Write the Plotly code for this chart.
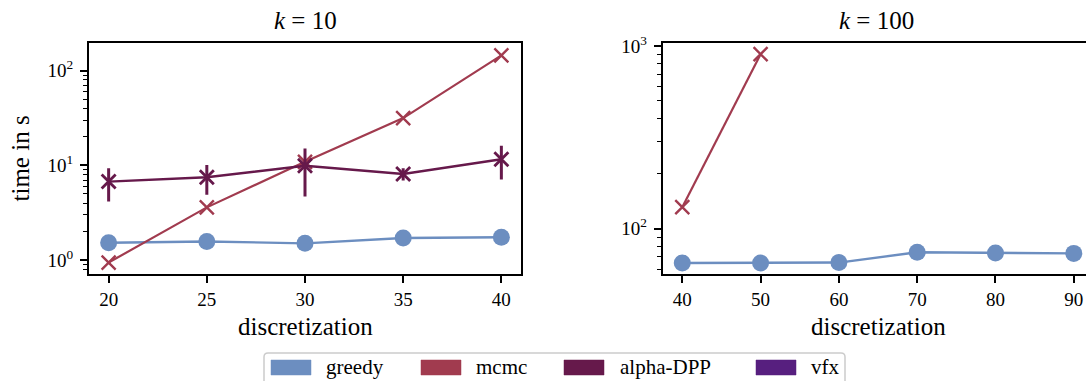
import plotly.graph_objects as go

W, H = 1086, 381

# ---- data ----
disc_k10 = [20, 25, 30, 35, 40]
greedy_k10 = [1.52, 1.57, 1.50, 1.71, 1.74]
mcmc_k10 = [0.94, 3.6, 10.9, 31.6, 145]
alpha_k10 = [6.74, 7.5, 9.9, 8.1, 11.6]
alpha_k10_err = [2.6, 2.6, 5.2, 1.2, 4.5]

disc_k100 = [40, 50, 60, 70, 80, 90]
greedy_k100 = [64.9, 64.8, 65.2, 74.2, 73.6, 73.2]
mcmc_k100_x = [40, 50]
mcmc_k100 = [131, 902]

series_names = ["greedy", "mcmc", "alpha-DPP", "vfx"]
colors = {"greedy": "#6c8ec0", "mcmc": "#a13b4f", "alpha-DPP": "#66194b", "vfx": "#571f7f"}

FONT = "Liberation Serif"

def px(x):
    return x / W

def py(y):
    return (H - y) / H

fig = go.Figure()

# left panel
fig.add_trace(go.Scatter(x=disc_k10, y=greedy_k10, mode="lines+markers", showlegend=False,
                         line=dict(color=colors["greedy"], width=2.4),
                         marker=dict(symbol="circle", size=17, color=colors["greedy"]),
                         xaxis="x", yaxis="y"))
fig.add_trace(go.Scatter(x=disc_k10, y=mcmc_k10, mode="lines+markers", showlegend=False,
                         line=dict(color=colors["mcmc"], width=2.2),
                         marker=dict(symbol="x-thin", size=14, line=dict(color=colors["mcmc"], width=2.4)),
                         xaxis="x", yaxis="y"))
fig.add_trace(go.Scatter(x=disc_k10, y=alpha_k10, mode="lines+markers", showlegend=False,
                         line=dict(color=colors["alpha-DPP"], width=2.4),
                         marker=dict(symbol="x-thin", size=14, line=dict(color=colors["alpha-DPP"], width=2.8)),
                         error_y=dict(type="data", array=alpha_k10_err, symmetric=True, thickness=3,
                                      width=0, color=colors["alpha-DPP"]),
                         xaxis="x", yaxis="y"))

# right panel
fig.add_trace(go.Scatter(x=disc_k100, y=greedy_k100, mode="lines+markers", showlegend=False,
                         line=dict(color=colors["greedy"], width=2.4),
                         marker=dict(symbol="circle", size=17, color=colors["greedy"]),
                         xaxis="x2", yaxis="y2"))
fig.add_trace(go.Scatter(x=mcmc_k100_x, y=mcmc_k100, mode="lines+markers", showlegend=False,
                         line=dict(color=colors["mcmc"], width=2.2),
                         marker=dict(symbol="x-thin", size=14, line=dict(color=colors["mcmc"], width=2.4)),
                         xaxis="x2", yaxis="y2"))

ydom = [py(274.3), py(42.7)]
common_x = dict(showline=True, linecolor="black", linewidth=2, ticks="outside", ticklen=7,
                tickwidth=1.6, tickcolor="black", showgrid=False, zeroline=False, automargin=False,
                tickfont=dict(family=FONT, size=19, color="black"))
common_y = dict(common_x, ticklabelstandoff=3)

fig.update_layout(
    width=W, height=H,
    margin=dict(l=0, r=0, t=0, b=0, autoexpand=False),
    paper_bgcolor="white", plot_bgcolor="white",
    showlegend=False,
    xaxis=dict(common_x, domain=[px(89), px(521)], range=[19, 41], tickvals=[20, 25, 30, 35, 40],
               mirror=True, anchor="y"),
    yaxis=dict(common_y, domain=ydom, type="log", range=[-0.151, 2.296], mirror=True, anchor="x",
               tickvals=[1, 10, 100], ticktext=["10<sup>0</sup>", "10<sup>1</sup>", "10<sup>2</sup>"],
               minor=dict(ticks="outside", ticklen=4, tickwidth=1.2, tickcolor="black",
                          tickvals=[0.8, 0.9, 2, 3, 4, 5, 6, 7, 8, 9, 20, 30, 40, 50, 60, 70, 80, 90])),
    xaxis2=dict(common_x, domain=[px(662.7), 1.0], range=[37.5, 91.56], tickvals=[40, 50, 60, 70, 80, 90],
                mirror=True, anchor="y2"),
    yaxis2=dict(common_y, domain=ydom, type="log", range=[1.750, 3.018], mirror=False, anchor="x2",
                tickvals=[100, 1000], ticktext=["10<sup>2</sup>", "10<sup>3</sup>"],
                minor=dict(ticks="outside", ticklen=4, tickwidth=1.2, tickcolor="black",
                           tickvals=[60, 70, 80, 90, 200, 300, 400, 500, 600, 700, 800, 900])),
)

ann = []
tfont = dict(family=FONT, size=25, color="black")
ann.append(dict(text="<i>k</i> = 10", x=px(305), y=py(20), xref="paper", yref="paper",
                showarrow=False, xanchor="center", yanchor="middle", font=tfont))
ann.append(dict(text="<i>k</i> = 100", x=px(876), y=py(20), xref="paper", yref="paper",
                showarrow=False, xanchor="center", yanchor="middle", font=tfont))
ann.append(dict(text="discretization", x=px(305), y=py(326), xref="paper", yref="paper",
                showarrow=False, xanchor="center", yanchor="middle", font=tfont))
ann.append(dict(text="discretization", x=px(878), y=py(326), xref="paper", yref="paper",
                showarrow=False, xanchor="center", yanchor="middle", font=tfont))
ann.append(dict(text="time in s", x=px(20), y=py(158.5), xref="paper", yref="paper", textangle=-90,
                showarrow=False, xanchor="center", yanchor="middle", font=tfont))

# legend (drawn manually: rectangular patches)
shapes = []
lx0, lx1, ly0, ly1, r = 264, 845, 353, 392, 4
path = (f"M {px(lx0)},{py(ly1)} L {px(lx0)},{py(ly0 + r)} Q {px(lx0)},{py(ly0)} {px(lx0 + r)},{py(ly0)} "
        f"L {px(lx1 - r)},{py(ly0)} Q {px(lx1)},{py(ly0)} {px(lx1)},{py(ly0 + r)} L {px(lx1)},{py(ly1)}")
shapes.append(dict(type="path", path=path, xref="paper", yref="paper",
                   line=dict(color="#cccccc", width=1.5)))
patch_x = [271, 421, 564, 756]
text_x = [324, 474, 618, 809]
for name, x0, tx in zip(series_names, patch_x, text_x):
    shapes.append(dict(type="rect", xref="paper", yref="paper", x0=px(x0), x1=px(x0 + 40),
                       y0=py(375), y1=py(360), fillcolor=colors[name],
                       line=dict(color=colors[name], width=0.5)))
    ann.append(dict(text=name, x=px(tx), y=py(367), xref="paper", yref="paper", showarrow=False,
                    xanchor="left", yanchor="middle", font=dict(family=FONT, size=21, color="black")))

fig.update_layout(annotations=ann, shapes=shapes)
fig.write_html("out.html")
